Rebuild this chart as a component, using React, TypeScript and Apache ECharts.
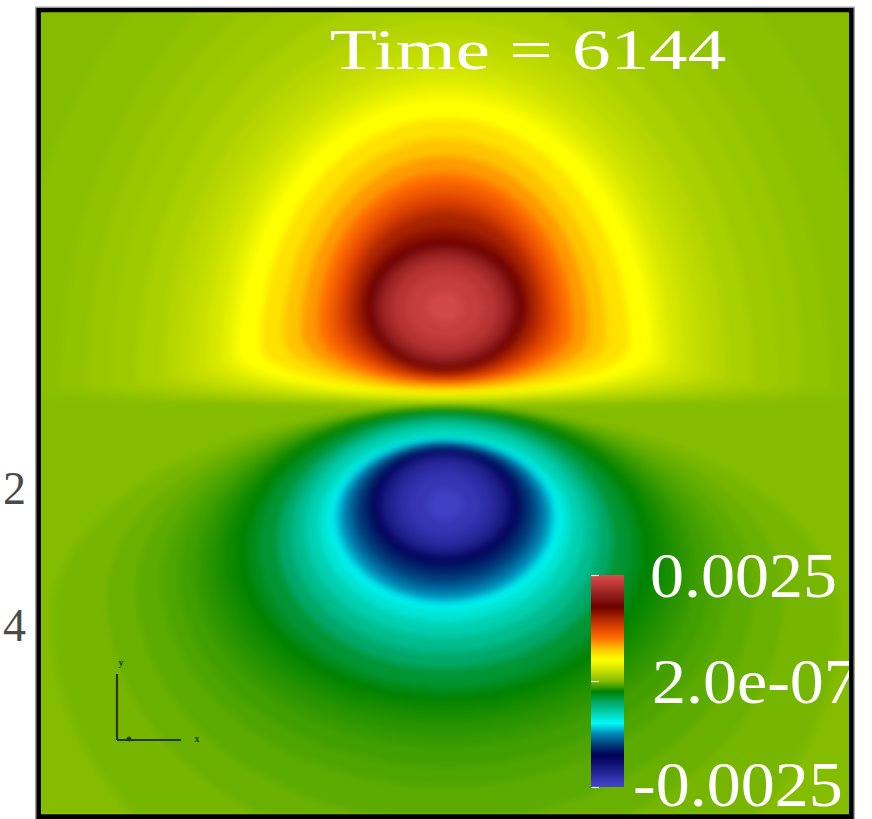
import React, { useEffect, useRef } from 'react';
import * as echarts from 'echarts';

// ---------------- data ----------------
const valueMin = -0.0025;
const valueMax = 0.0025;
const FIELD_UNIT = 1e-3; // contour levels below are given in units of 1e-3

// colour ramp, bottom (-0.0025) to top (0.0025), even steps
const colorbarColors = [
  '#4444cc', '#2c2ca4', '#15157a', '#000055', '#003c7c', '#0088b4', '#00fafa',
  '#00d0b0', '#00a868', '#008200', '#84bc00', '#c8e000', '#ffff00', '#ffc400',
  '#ff7000', '#e04400', '#a82200', '#6c0000', '#8c1a1a', '#b83434', '#d84c4c',
];
const colorbarTickValues = [0.0025, 2.0e-7, -0.0025];
const colorbarTickLabels = ['0.0025', '2.0e-07', '-0.0025'];
const timeLabel = 'Time = 6144';
const sideTickValues = [2, 4];
const triadLabels = ['y', 'x'];

// positive lobe contours, outer to inner: level, centre height, half width, upper / lower half height
const posLevels = [0.025, 0.05, 0.075, 0.1, 0.1375, 0.175, 0.2125, 0.25, 0.3125, 0.375, 0.4375, 0.5, 0.625, 0.75, 0.875, 1.0, 1.125, 1.25, 1.375, 1.5, 1.625, 1.75, 1.875, 2.0, 2.125, 2.25, 2.35, 2.45];
const posCenterY = [0.2, 0.23, 0.255, 0.28, 0.315, 0.35, 0.38, 0.41, 0.46, 0.51, 0.545, 0.58, 0.65, 0.73, 0.78, 0.83, 0.87, 0.91, 0.95, 0.98, 1.02, 1.04, 1.03, 1.03, 1.03, 1.03, 1.03, 1.03];
const posHalfWidth = [4.3, 3.8, 3.55, 3.3, 3.05, 2.8, 2.65, 2.5, 2.36, 2.22, 2.13, 2.05, 1.82, 1.6, 1.42, 1.26, 1.16, 1.07, 0.99, 0.92, 0.84, 0.78, 0.73, 0.68, 0.62, 0.52, 0.38, 0.18];
const posUpper = [5.5, 4.9, 4.55, 4.25, 3.9, 3.58, 3.37, 3.17, 2.98, 2.8, 2.67, 2.55, 2.28, 2.0, 1.77, 1.55, 1.41, 1.26, 1.12, 1.0, 0.81, 0.68, 0.63, 0.59, 0.54, 0.46, 0.34, 0.16];
const posLower = [0.15, 0.17, 0.19, 0.21, 0.235, 0.26, 0.28, 0.3, 0.335, 0.37, 0.39, 0.41, 0.46, 0.51, 0.54, 0.56, 0.58, 0.6, 0.62, 0.62, 0.63, 0.63, 0.6, 0.56, 0.51, 0.44, 0.32, 0.15];

// negative lobe contours, outer to inner
const negLevels = [-0.025, -0.05, -0.075, -0.1, -0.125, -0.15, -0.175, -0.2, -0.225, -0.25, -0.3125, -0.375, -0.5, -0.625, -0.75, -0.875, -1.0, -1.125, -1.25, -1.375, -1.5, -1.625, -1.75, -1.875, -2.0, -2.125, -2.25, -2.35, -2.45];
const negCenterY = [-2.1, -1.87, -1.78, -1.69, -1.64, -1.59, -1.555, -1.52, -1.48, -1.44, -1.405, -1.37, -1.31, -1.25, -1.19, -1.14, -1.09, -1.065, -1.045, -1.02, -1.0, -0.97, -0.95, -0.95, -0.95, -0.95, -0.95, -0.95, -0.95];
const negHalfWidth = [3.9, 3.35, 3.05, 2.8, 2.64, 2.48, 2.38, 2.27, 2.17, 2.06, 1.95, 1.84, 1.66, 1.52, 1.39, 1.25, 1.14, 1.09, 1.03, 0.96, 0.89, 0.81, 0.73, 0.69, 0.64, 0.58, 0.48, 0.36, 0.18];
const negUpper = [2.13, 1.9, 1.81, 1.72, 1.67, 1.62, 1.58, 1.54, 1.495, 1.45, 1.4, 1.35, 1.25, 1.15, 1.04, 0.9, 0.81, 0.77, 0.73, 0.69, 0.65, 0.6, 0.55, 0.54, 0.52, 0.49, 0.42, 0.32, 0.16];
const negLower = [3.2, 2.6, 2.34, 2.08, 1.93, 1.78, 1.69, 1.6, 1.545, 1.49, 1.445, 1.4, 1.28, 1.18, 1.08, 0.98, 0.9, 0.87, 0.84, 0.79, 0.73, 0.67, 0.59, 0.55, 0.51, 0.47, 0.4, 0.3, 0.15];
const lobeCenterX = 0;
const backgroundLevel = 0;

// ---------------- layout ----------------
const W = 872;
const H = 819;
const fieldExtent = 4.1; // field drawn a little past the frame so the soft edge hides under it
const fieldGrid = { left: 445 - fieldExtent * 101, top: 413 - fieldExtent * 100.25, width: 2 * fieldExtent * 101, height: 2 * fieldExtent * 100.25 };
const bar = { left: 591, top: 575, width: 33, height: 212 };
const colorbarLabelX = [650, 652, 633];
const serif = '"Liberation Serif", "Times New Roman", serif';

function buildData() {
  const rows: number[][] = [[backgroundLevel, lobeCenterX, 0, 7, 7, 7]];
  posLevels.forEach((v, i) => rows.push([v * FIELD_UNIT, lobeCenterX, posCenterY[i], posHalfWidth[i], posUpper[i], posLower[i]]));
  negLevels.forEach((v, i) => rows.push([v * FIELD_UNIT, lobeCenterX, negCenterY[i], negHalfWidth[i], negUpper[i], negLower[i]]));
  return rows;
}

function renderItem(_params: any, api: any) {
  const cx = api.value(1);
  const cy = api.value(2);
  const rx = api.value(3);
  const ryT = api.value(4);
  const ryB = api.value(5);
  const L = api.coord([cx - rx, cy]);
  const R = api.coord([cx + rx, cy]);
  const T = api.coord([cx, cy + ryT]);
  const B = api.coord([cx, cy - ryB]);
  const a = (R[0] - L[0]) / 2;
  const bt = Math.max(0.01, L[1] - T[1]);
  const bb = Math.max(0.01, B[1] - L[1]);
  const d = `M${L[0]} ${L[1]} A${a} ${bt} 0 0 1 ${R[0]} ${R[1]} A${a} ${bb} 0 0 1 ${L[0]} ${L[1]} Z`;
  const c = api.visual('color');
  return { type: 'path', shape: { pathData: d }, style: { fill: c, stroke: c, lineWidth: 0.5 }, silent: true };
}

function fieldOption() {
  return {
    animation: false,
    backgroundColor: 'transparent',
    grid: { ...fieldGrid, show: false },
    xAxis: { type: 'value', min: -fieldExtent, max: fieldExtent, show: false },
    yAxis: { type: 'value', min: -fieldExtent, max: fieldExtent, show: false },
    visualMap: {
      show: false, type: 'continuous', min: valueMin, max: valueMax, dimension: 0, seriesIndex: 0,
      inRange: { color: colorbarColors },
    },
    series: [
      { type: 'custom', clip: true, silent: true, encode: { x: 1, y: 2 }, renderItem, data: buildData() },
    ],
  };
}

function overlayOption() {
  const labelY = (v: number) => bar.top + ((valueMax - v) / (valueMax - valueMin)) * bar.height;
  const g: any[] = [];
  // white surround outside the frame
  g.push({ type: 'rect', z: -5, shape: { x: 0, y: 0, width: 37, height: H }, style: { fill: '#ffffff' } });
  g.push({ type: 'rect', z: 20, shape: { x: 0, y: 0, width: W, height: 8 }, style: { fill: '#ffffff' } });
  g.push({ type: 'rect', z: 20, shape: { x: 853, y: 0, width: W - 853, height: H }, style: { fill: '#ffffff' } });
  // colour bar
  const stops = colorbarColors.slice().reverse().map((c, i, arr) => ({ offset: i / (arr.length - 1), color: c }));
  g.push({
    type: 'rect', z: 5, shape: { x: bar.left, y: bar.top, width: bar.width, height: bar.height },
    style: { fill: new echarts.graphic.LinearGradient(0, 0, 0, 1, stops) },
  });
  colorbarTickLabels.forEach((t, i) => {
    const y = Math.min(labelY(colorbarTickValues[i]) + 1, 785);
    g.push({
      type: 'text', x: colorbarLabelX[i], y, z: 10, scaleX: 1.08,
      style: {
        text: t, fill: '#ffffff', font: `63px ${serif}`, lineHeight: 46,
        align: 'left', verticalAlign: 'middle', textAlign: 'left', textVerticalAlign: 'middle',
      },
    });
  });
  g.push({
    type: 'text', x: 528, y: 49, z: 10, scaleX: 1.33,
    style: { text: timeLabel, fill: '#ffffff', font: `58px ${serif}`, align: 'center', verticalAlign: 'middle', textAlign: 'center', textVerticalAlign: 'middle' },
  });
  // orientation triad
  const triad = '#243800';
  g.push({ type: 'line', z: 10, shape: { x1: 117, y1: 674, x2: 117, y2: 740 }, style: { stroke: triad, lineWidth: 2.2 } });
  g.push({ type: 'line', z: 10, shape: { x1: 117, y1: 740, x2: 181, y2: 740 }, style: { stroke: triad, lineWidth: 2.2 } });
  g.push({ type: 'circle', z: 10, shape: { cx: 129, cy: 739, r: 2.4 }, style: { fill: triad } });
  g.push({ type: 'text', z: 10, x: 121, y: 662, style: { text: triadLabels[0], fill: triad, font: `bold 10px ${serif}`, align: 'center', verticalAlign: 'middle', textAlign: 'center', textVerticalAlign: 'middle' } });
  g.push({ type: 'text', z: 10, x: 197, y: 738, style: { text: triadLabels[1], fill: triad, font: `bold 10px ${serif}`, align: 'center', verticalAlign: 'middle', textAlign: 'center', textVerticalAlign: 'middle' } });
  // frame
  g.push({ type: 'rect', z: 21, shape: { x: 35.5, y: 7, width: 819, height: 815 }, style: { fill: 'none', stroke: '#a0a0a0', lineWidth: 1 } });
  g.push({ type: 'rect', z: 22, shape: { x: 38.6, y: 10, width: 812.8, height: 806.6 }, style: { fill: 'none', stroke: '#000000', lineWidth: 4.6 } });

  return {
    animation: false,
    backgroundColor: 'transparent',
    grid: [
      { left: 26, top: 351, width: 10, height: 411, show: false },
      { ...bar, show: false },
    ],
    xAxis: [
      { gridIndex: 0, type: 'value', min: 0, max: 1, show: false },
      { gridIndex: 1, type: 'value', min: 0, max: 1, show: false },
    ],
    yAxis: [
      {
        gridIndex: 0, type: 'value', min: 0, max: 6, interval: 2, inverse: true, position: 'left',
        axisLine: { show: false }, axisTick: { show: false }, splitLine: { show: false },
        axisLabel: {
          margin: 4, color: '#4a4a4a', fontFamily: serif, fontSize: 46,
          formatter: (v: number) => (sideTickValues.indexOf(v) >= 0 ? String(v) : ''),
        },
      },
      {
        gridIndex: 1, type: 'value', min: valueMin, max: valueMax, interval: 0.0025, position: 'right', z: 8,
        axisLine: { show: false }, splitLine: { show: false }, axisLabel: { show: false },
        axisTick: { show: true, length: 8, lineStyle: { color: '#e6e6e6', width: 1.2 } },
      },
    ],
    graphic: g,
  };
}

export default function App() {
  const fieldRef = useRef<HTMLDivElement>(null);
  const overlayRef = useRef<HTMLDivElement>(null);
  useEffect(() => {
    if (!fieldRef.current || !overlayRef.current) return;
    const field = echarts.init(fieldRef.current, null, { renderer: 'svg' });
    field.setOption(fieldOption());
    const overlay = echarts.init(overlayRef.current, null, { renderer: 'svg' });
    overlay.setOption(overlayOption());
    return () => {
      field.dispose();
      overlay.dispose();
    };
  }, []);
  const box = { position: 'fixed' as const, left: 0, top: 0, width: W + 'px', height: H + 'px' };
  return (
    <div style={{ ...box, background: '#ffffff', overflow: 'hidden' }}>
      <div ref={fieldRef} style={{ ...box, filter: 'blur(3.5px)' }} />
      <div ref={overlayRef} style={box} />
    </div>
  );
}
